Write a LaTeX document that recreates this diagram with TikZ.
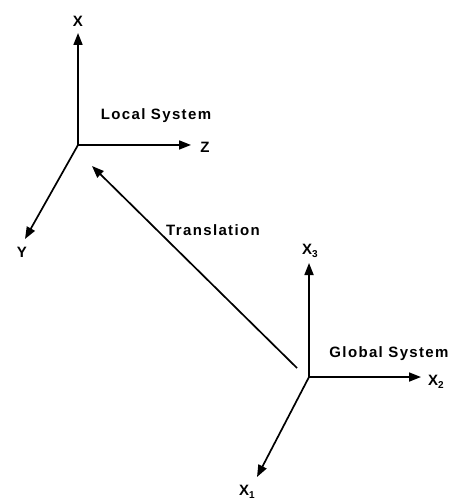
\documentclass[tikz,border=0pt]{standalone}
\usepackage{fontspec}
\setmainfont{Liberation Sans}[LetterSpace=9]
\usetikzlibrary{arrows.meta}
\begin{document}
\begin{tikzpicture}[x=1pt,y=-1pt,
  axis/.style={line width=1.7pt,-{Triangle[length=12pt,width=9pt]}},
  lbl/.style={font=\fontsize{15}{17}\selectfont\bfseries,inner sep=0pt}]
\useasboundingbox (0,0) rectangle (451,502);
\newcommand{\subx}[1]{X\raisebox{-0.45ex}{\fontsize{10}{11}\selectfont #1}}
% Local system
\coordinate (lo) at (78,145);
\node[lbl] (lx) at (78,21) {X};
\node[lbl] (lz) at (205,147) {Z};
\node[lbl] (ly) at (22,252) {Y};
\coordinate (lxt) at (78,33);
\coordinate (lzt) at (191,145);
\coordinate (lyt) at (25,239);
\draw[axis] (lo) -- (lxt);
\draw[axis] (lo) -- (lzt);
\draw[axis] (lo) -- (lyt);
\node[lbl] (ls) at (156,116) {Local System};
% Global system
\coordinate (go) at (309,377);
\coordinate (gx3) at (309,263);
\coordinate (gx2) at (421,377);
\coordinate (gx1) at (257,477);
\draw[axis] (go) -- (gx3);
\draw[axis] (go) -- (gx2);
\draw[axis] (go) -- (gx1);
\node[lbl,anchor=west] (l3) at (302,251) {\subx{3}};
\node[lbl,anchor=west] (l2) at (428,382) {\subx{2}};
\node[lbl,anchor=west] (l1) at (239,492) {\subx{1}};
\node[lbl] (gs) at (389,354) {Global System};
% Translation
\coordinate (ts) at (297,368);
\coordinate (te) at (92,166);
\draw[axis] (ts) -- (te);
\node[lbl] (tl) at (213,230) {Translation};
\end{tikzpicture}
\end{document}
